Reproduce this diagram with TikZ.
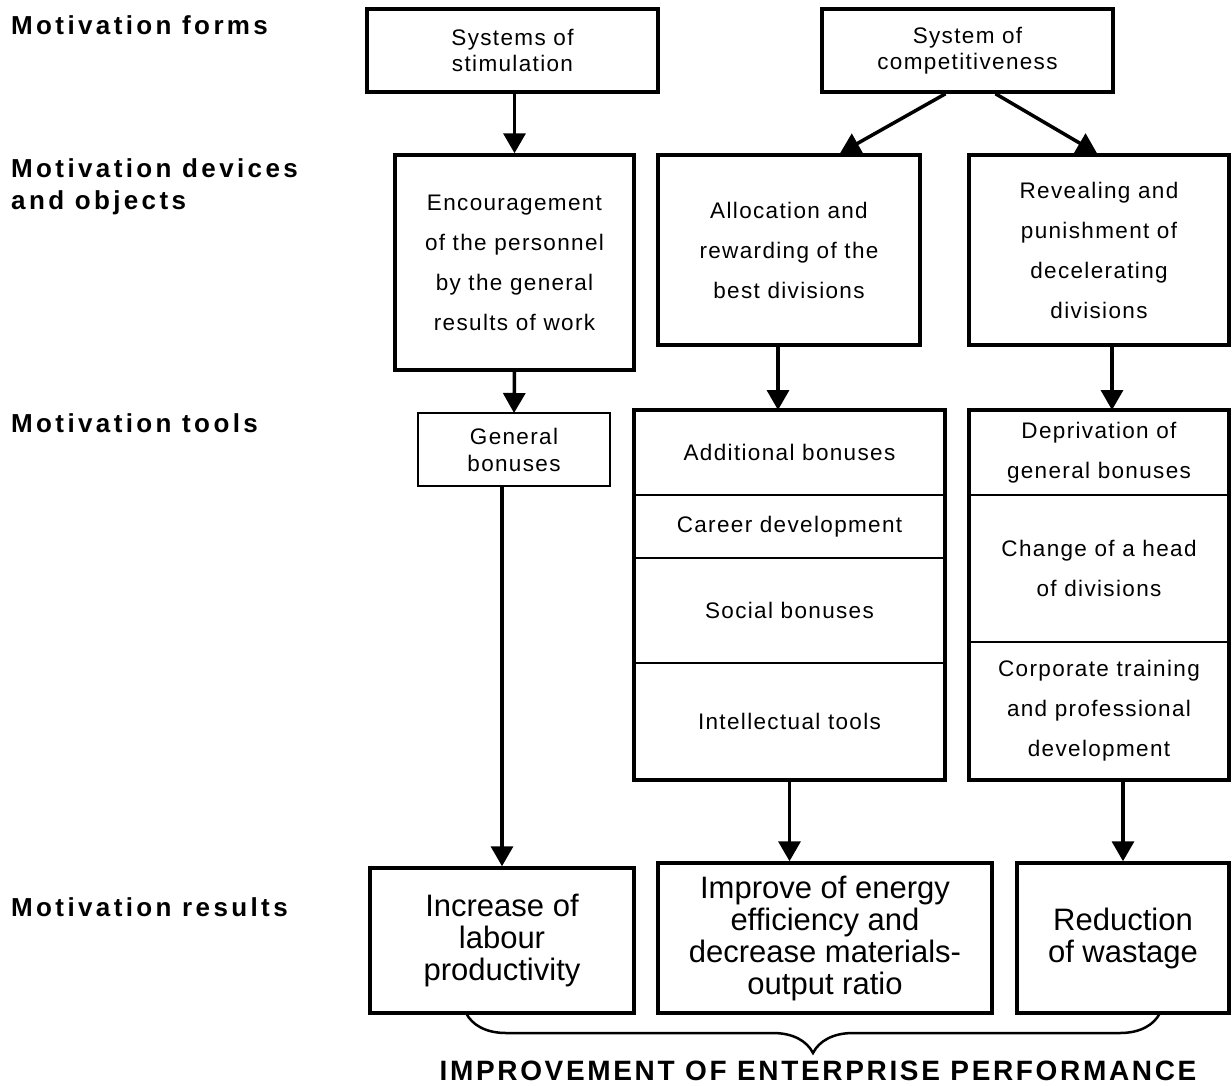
\documentclass[tikz,border=0pt]{standalone}
\usepackage{fontspec}
\setmainfont{Liberation Sans}
\newfontfamily\rowfont[LetterSpace=13]{Liberation Sans}
\newfontfamily\boxfont[LetterSpace=6]{Liberation Sans}
\newfontfamily\capsfont[LetterSpace=9.5]{Liberation Sans}
\usetikzlibrary{arrows.meta,calc,positioning,decorations.pathreplacing}
\tikzset{
  rowlabel/.style={anchor=west, align=left, inner sep=0pt,
    font=\rowfont\bfseries\fontsize{26}{32}\selectfont},
  formbox/.style={draw, line width=3.5pt, minimum width=291pt, minimum height=83pt,
    align=center, font=\boxfont\fontsize{22.5}{26}\selectfont},
  devbox/.style={draw, line width=3.5pt, align=center,
    font=\boxfont\fontsize{22.5}{40}\selectfont},
  toolcell/.style={draw, line width=1.5pt, outer sep=0pt, align=center,
    font=\boxfont\fontsize{22.5}{40}\selectfont},
  resbox/.style={draw, line width=3.5pt, minimum height=147pt, align=center,
    font=\fontsize{31}{32}\selectfont},
  thickframe/.style={draw, line width=3.5pt},
  flow/.style={-{Triangle[length=20pt,width=22pt]}, line width=3.5pt},
  bigbrace/.style={decorate, decoration={brace, mirror, amplitude=40pt}, line width=2.5pt}
}
\begin{document}
\begin{tikzpicture}[x=1pt,y=-1pt]
  \useasboundingbox (0,0) rectangle (1232,1085);
  \node[rowlabel] (lforms) at (11,25) {Motivation forms};
  \node[rowlabel] (ldevices) at (11,187) {Motivation devices\\and objects};
  \node[rowlabel] (ltools) at (11,423) {Motivation tools};
  \node[rowlabel] (lresults) at (11,907) {Motivation results};

  \node[formbox] (stim) at (512.5,50.5) {Systems of\\stimulation};
  \node[formbox] (comp) at (967.5,50.5) {System of\\competitiveness};

  \node[devbox,minimum width=239pt,minimum height=215pt] (enc) at (514.5,262.5)
    {Encouragement\\of the personnel\\by the general\\results of work};
  \node[devbox,minimum width=262pt,minimum height=190pt] (alloc) at (789,250)
    {Allocation and\\rewarding of the\\best divisions};
  \node[devbox,minimum width=260pt,minimum height=190pt] (rev) at (1099,250)
    {Revealing and\\punishment of\\decelerating\\divisions};

  \node[toolcell,minimum width=192pt,minimum height=73pt,
    font=\boxfont\fontsize{22.5}{27}\selectfont] (genbon) at (514,449.5) {General\\bonuses};

  \node[toolcell,minimum width=311pt,minimum height=85pt] (t2a) at (789.5,452.5) {Additional bonuses};
  \node[toolcell,minimum width=311pt,minimum height=63pt,below=0pt of t2a] (t2b) {Career development};
  \node[toolcell,minimum width=311pt,minimum height=105pt,below=0pt of t2b] (t2c) {Social bonuses};
  \node[toolcell,minimum width=311pt,minimum height=117pt,below=0pt of t2c] (t2d) {Intellectual tools};
  \draw[thickframe] (t2a.north west) rectangle (t2d.south east);

  \node[toolcell,minimum width=260pt,minimum height=85pt] (t3a) at (1099,452.5) {Deprivation of\\general bonuses};
  \node[toolcell,minimum width=260pt,minimum height=147pt,below=0pt of t3a] (t3b) {Change of a head\\of divisions};
  \node[toolcell,minimum width=260pt,minimum height=138pt,below=0pt of t3b] (t3c) {Corporate training\\and professional\\development};
  \draw[thickframe] (t3a.north west) rectangle (t3c.south east);

  \node[resbox,minimum width=264pt,minimum height=145pt] (res1) at (502,940.5) {Increase of\\labour\\productivity};
  \node[resbox,minimum width=334pt,minimum height=150pt] (res2) at (825,938) {Improve of energy\\efficiency and\\decrease materials-\\output ratio};
  \node[resbox,minimum width=212pt,minimum height=150pt] (res3) at (1123,938) {Reduction\\of wastage};

  \draw[flow] (enc.north |- stim.south) -- (enc.north);
  \draw[flow] ([xshift=-22pt]comp.south) -- ([xshift=51pt]alloc.north);
  \draw[flow] ([xshift=28pt]comp.south) -- ([xshift=-2pt]rev.north);
  \draw[flow] (enc.south) -- (genbon.north);
  \draw[flow] ([xshift=-11pt]alloc.south) -- ([xshift=-11pt]alloc.south |- t2a.north);
  \draw[flow] ([xshift=13pt]rev.south) -- ([xshift=13pt]rev.south |- t3a.north);
  \draw[flow] (res1.north |- genbon.south) -- (res1.north);
  \draw[flow] (t2d.south) -- (t2d.south |- res2.north);
  \draw[flow] (res3.north |- t3c.south) -- (res3.north);

  \coordinate (bleft) at (466,1013);
  \coordinate (bright) at (1160,1013);
  \draw[bigbrace] (bleft) -- (bright);
  \node[font=\capsfont\bfseries\fontsize{28}{30}\selectfont] (goal) at (818,1071)
    {IMPROVEMENT OF ENTERPRISE PERFORMANCE};
\end{tikzpicture}
\end{document}
